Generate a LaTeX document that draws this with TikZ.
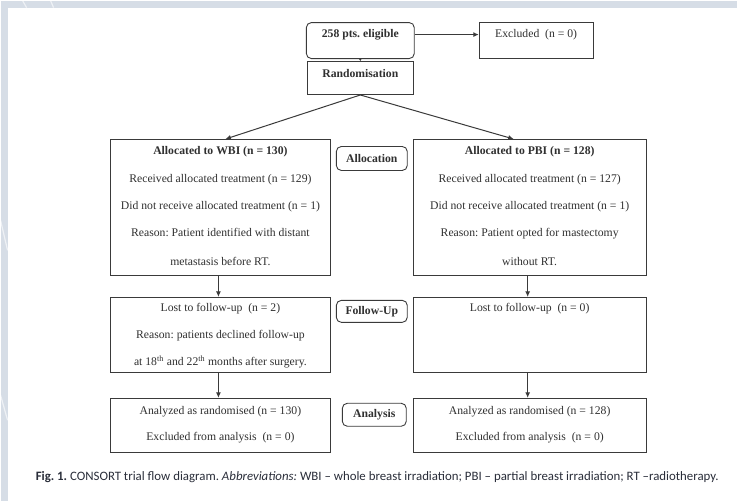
\documentclass[tikz,border=0pt]{standalone}
\usepackage{fontspec}
\setmainfont{Liberation Serif}
\newfontfamily\capfont[Ligatures=TeX]{Carlito}
\usetikzlibrary{arrows.meta,positioning,calc}
\definecolor{bgblue}{HTML}{D6DDE6}
\definecolor{ln}{HTML}{3A3A3A}
\definecolor{tx}{HTML}{303030}
\definecolor{captx}{HTML}{2A2E3A}
\frenchspacing
\begin{document}
\begin{tikzpicture}[x=1pt,y=-1pt,
  box/.style={draw=ln,line width=0.9pt,fill=white,inner sep=0pt},
  rbox/.style={box,rounded corners=5pt},
  txt/.style={inner sep=0pt,text=tx,font=\fontsize{11.7}{13}\selectfont},
  btxt/.style={txt,font=\fontsize{11.7}{13}\selectfont\bfseries},
  arr/.style={draw=ln,line width=1pt,-{Latex[length=5.5pt,width=5pt]}}]
\fill[bgblue] (0,0) rectangle (737,501);
\fill[white] (7,7) rectangle (737,501);
\draw[white,opacity=0.6,line width=1.2pt] (0,220) -- (7,250);
\draw[white,opacity=0.6,line width=1.2pt] (0,395) -- (7,420);
\draw[white,opacity=0.6,line width=1.2pt] (22,0) -- (26,7);
\draw[white,opacity=0.6,line width=1.2pt] (50,0) -- (53,7);
\useasboundingbox (0,0) rectangle (737,501);

% top
\node[rbox,minimum width=108pt,minimum height=36pt] (elig) at (360,40) {};
\node[btxt] (eligt) at (360,34) {258 pts. eligible};
\node[box,minimum width=114pt,minimum height=36pt] (excl) at (536,40) {};
\node[txt] (exclt) at (536,34) {Excluded\ \ (n = 0)};
\node[box,minimum width=106pt,minimum height=33pt] (rand) at (360,77.5) {};
\node[btxt] (randt) at (360,73) {Randomisation};

% allocation
\node[box,minimum width=220pt,minimum height=136pt] (wbi) at (220,207) {};
\node[btxt] (wbi1) at (220,151.5) {Allocated to WBI (n = 130)};
\node[txt] (wbi2) at (220,179) {Received allocated treatment (n = 129)};
\node[txt] (wbi3) at (220,206) {Did not receive allocated treatment (n = 1)};
\node[txt] (wbi4) at (220,232.5) {Reason: Patient identified with distant};
\node[txt] (wbi5) at (220,261) {metastasis before RT.};

\node[box,minimum width=233pt,minimum height=136pt] (pbi) at (529.5,207) {};
\node[btxt] (pbi1) at (529.5,151.5) {Allocated to PBI (n = 128)};
\node[txt] (pbi2) at (529.5,179) {Received allocated treatment (n = 127)};
\node[txt] (pbi3) at (529.5,206) {Did not receive allocated treatment (n = 1)};
\node[txt] (pbi4) at (529.5,233) {Reason: Patient opted for mastectomy};
\node[txt] (pbi5) at (529.5,261) {without RT.};

\node[rbox,minimum width=71pt,minimum height=24pt] (alloc) at (371.5,158) {};
\node[btxt] (alloct) at (371.5,158) {Allocation};

% follow-up
\node[box,minimum width=220pt,minimum height=75pt] (wfu) at (220,334.5) {};
\node[txt] (wfu1) at (220,308.5) {Lost to follow-up\ \ (n = 2)};
\node[txt] (wfu2) at (220,335) {Reason: patients declined follow-up};
\node[txt] (wfu3) at (220,361.5) {at 18\textsuperscript{th} and 22\textsuperscript{th} months after surgery.};

\node[box,minimum width=233pt,minimum height=75pt] (pfu) at (529.5,334.5) {};
\node[txt] (pfu1) at (529.5,308.5) {Lost to follow-up\ \ (n = 0)};

\node[rbox,minimum width=71pt,minimum height=22pt] (fu) at (371.5,311) {};
\node[btxt] (fut) at (371.5,311.5) {Follow-Up};

% analysis
\node[box,minimum width=220pt,minimum height=54pt] (wan) at (220,425) {};
\node[txt] (wan1) at (220,411) {Analyzed as randomised (n = 130)};
\node[txt] (wan2) at (220,437.5) {Excluded from analysis\ \ (n = 0)};

\node[box,minimum width=233pt,minimum height=54pt] (pan) at (529.5,425) {};
\node[txt] (pan1) at (529.5,411) {Analyzed as randomised (n = 128)};
\node[txt] (pan2) at (529.5,437.5) {Excluded from analysis\ \ (n = 0)};

\node[rbox,minimum width=64pt,minimum height=23pt] (an) at (374,414.5) {};
\node[btxt] (ant) at (374,414.5) {Analysis};

% connectors
\draw[arr] (elig.east |- eligt) -- (excl.west |- eligt);
\draw[draw=ln,line width=0.8pt,-{Latex[length=2.5pt,width=3pt]}] (elig.south) -- (rand.north);
\draw[arr] (rand.south) -- ([xshift=5pt]wbi.north);
\draw[arr] (rand.south) -- ([xshift=-16pt]pbi.north);
\draw[arr] ([xshift=-2pt]wbi.south) -- ([xshift=-2pt]wfu.north);
\draw[arr] ([xshift=-2pt]pbi.south) -- ([xshift=-2pt]pfu.north);
\draw[arr] ([xshift=-2pt]wfu.south) -- ([xshift=-2pt]wan.north);
\draw[arr] ([xshift=-2pt]pfu.south) -- ([xshift=-2pt]pan.north);

% caption
\node[anchor=west,inner sep=0pt,text=captx,font=\capfont\fontsize{12.85}{14}\selectfont] (cap) at (35,477)
  {\textbf{Fig. 1.} CONSORT trial flow diagram. \textit{Abbreviations:} WBI – whole breast irradiation; PBI – partial breast irradiation; RT –radiotherapy.};
\end{tikzpicture}
\end{document}
